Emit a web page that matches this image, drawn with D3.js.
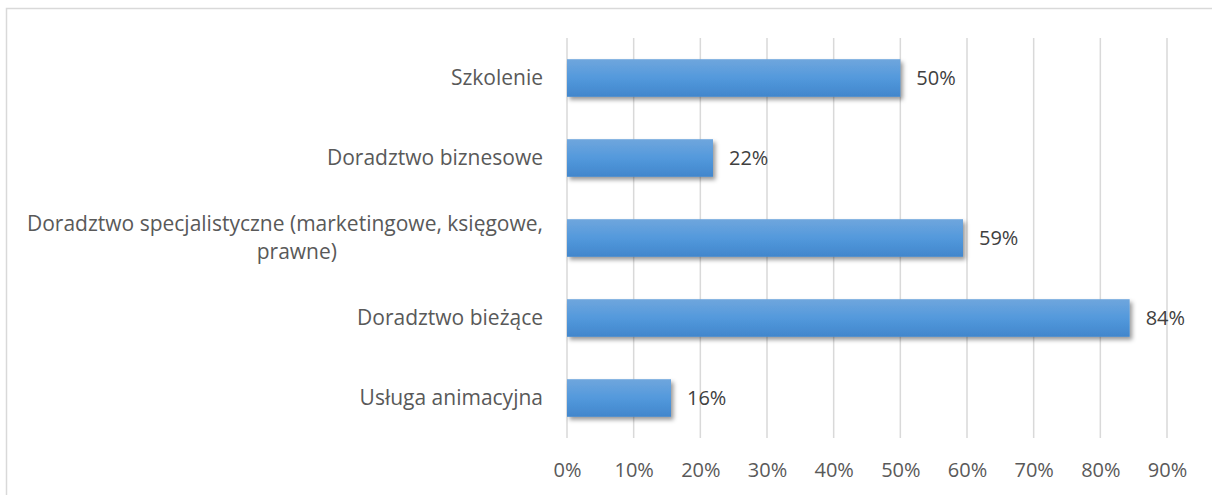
<!DOCTYPE html>
<html>
<head>
<meta charset="utf-8">
<script src="https://cdn.jsdelivr.net/npm/d3@7"></script>
<style>
  body { margin: 0; background: #fff; }
  svg text { font-family: "Open Sans", sans-serif; }
</style>
</head>
<body>
<svg id="chart" width="1212" height="495"></svg>
<script>
// data
var categories = ["Szkolenie", "Doradztwo biznesowe",
  "Doradztwo specjalistyczne (marketingowe, księgowe,|prawne)",
  "Doradztwo bieżące", "Usługa animacyjna"];
var values = [0.50, 0.219, 0.594, 0.844, 0.156];
var ticks = [0, 0.1, 0.2, 0.3, 0.4, 0.5, 0.6, 0.7, 0.8, 0.9];

var svg = d3.select("#chart");

var margin = {top: 38, left: 567, right: 45, bottom: 57};
var width = 1212 - margin.left - margin.right;
var height = 495 - margin.top - margin.bottom;

// outer frame
svg.append("rect")
  .attr("x", 6.5).attr("y", 8.5)
  .attr("width", 1220).attr("height", 500)
  .attr("fill", "none").attr("stroke", "#d9d9d9").attr("stroke-width", 1.5);

var defs = svg.append("defs");
var grad = defs.append("linearGradient").attr("id", "barGrad")
  .attr("x1", 0).attr("y1", 0).attr("x2", 0).attr("y2", 1);
grad.append("stop").attr("offset", "0%").attr("stop-color", "#6fa6dd");
grad.append("stop").attr("offset", "50%").attr("stop-color", "#5399dc");
grad.append("stop").attr("offset", "100%").attr("stop-color", "#4186cc");

var shadow = defs.append("filter").attr("id", "shadow")
  .attr("x", "-10%").attr("y", "-30%").attr("width", "130%").attr("height", "180%");
shadow.append("feDropShadow").attr("dx", 2.5).attr("dy", 3).attr("stdDeviation", 2.2)
  .attr("flood-color", "#000").attr("flood-opacity", 0.4);

var x = d3.scaleLinear().domain([0, 0.9]).range([0, 600]);
var y = d3.scaleBand().domain(categories).range([0, height]).paddingInner(0.53).paddingOuter(0.265);

var main = svg.append("g")
  .attr("transform", "translate(" + margin.left + "," + margin.top + ")");

// grid lines
main.append("g").selectAll("line")
  .data(ticks)
  .enter().append("line")
  .attr("x1", function(d) { return x(d); })
  .attr("x2", function(d) { return x(d); })
  .attr("y1", 0).attr("y2", height)
  .attr("stroke", "#d9d9d9").attr("stroke-width", 1.5);

// x axis labels
var xAxis = d3.axisBottom(x).tickValues(ticks).tickFormat(d3.format(".0%")).tickSize(0).tickPadding(25);
var ax = main.append("g")
  .attr("transform", "translate(0," + height + ")")
  .call(xAxis);
ax.select(".domain").remove();
ax.selectAll("text").attr("fill", "#595959").style("font-size", "20px");

// bars
main.append("g").selectAll("rect")
  .data(values)
  .enter().append("rect")
  .attr("x", 0)
  .attr("y", function(d, i) { return y(categories[i]); })
  .attr("width", function(d) { return x(d); })
  .attr("height", y.bandwidth())
  .attr("fill", "url(#barGrad)")
  .attr("filter", "url(#shadow)");

// value labels
main.append("g").selectAll("text")
  .data(values)
  .enter().append("text")
  .attr("x", function(d) { return x(d) + 16; })
  .attr("y", function(d, i) { return y(categories[i]) + y.bandwidth() / 2; })
  .attr("dy", "0.35em")
  .attr("fill", "#404040")
  .style("font-size", "20px")
  .text(function(d) { return d3.format(".0%")(d); });

// category labels (one text per line, wrapped line sits a bit to the left like excel does)
var lineGap = 28;
main.append("g").selectAll("g")
  .data(categories)
  .enter().append("g")
  .each(function(d) {
    var lines = d.split("|");
    var cy = y(d) + y.bandwidth() / 2;
    var g = d3.select(this);
    lines.forEach(function(l, k) {
      g.append("text")
        .attr("x", k === 0 ? -24 : -230)
        .attr("y", cy + (k - (lines.length - 1) / 2) * lineGap)
        .attr("dy", "0.35em")
        .attr("text-anchor", "end")
        .attr("fill", "#595959")
        .style("font-size", "21px")
        .text(l);
    });
  });
</script>
</body>
</html>
